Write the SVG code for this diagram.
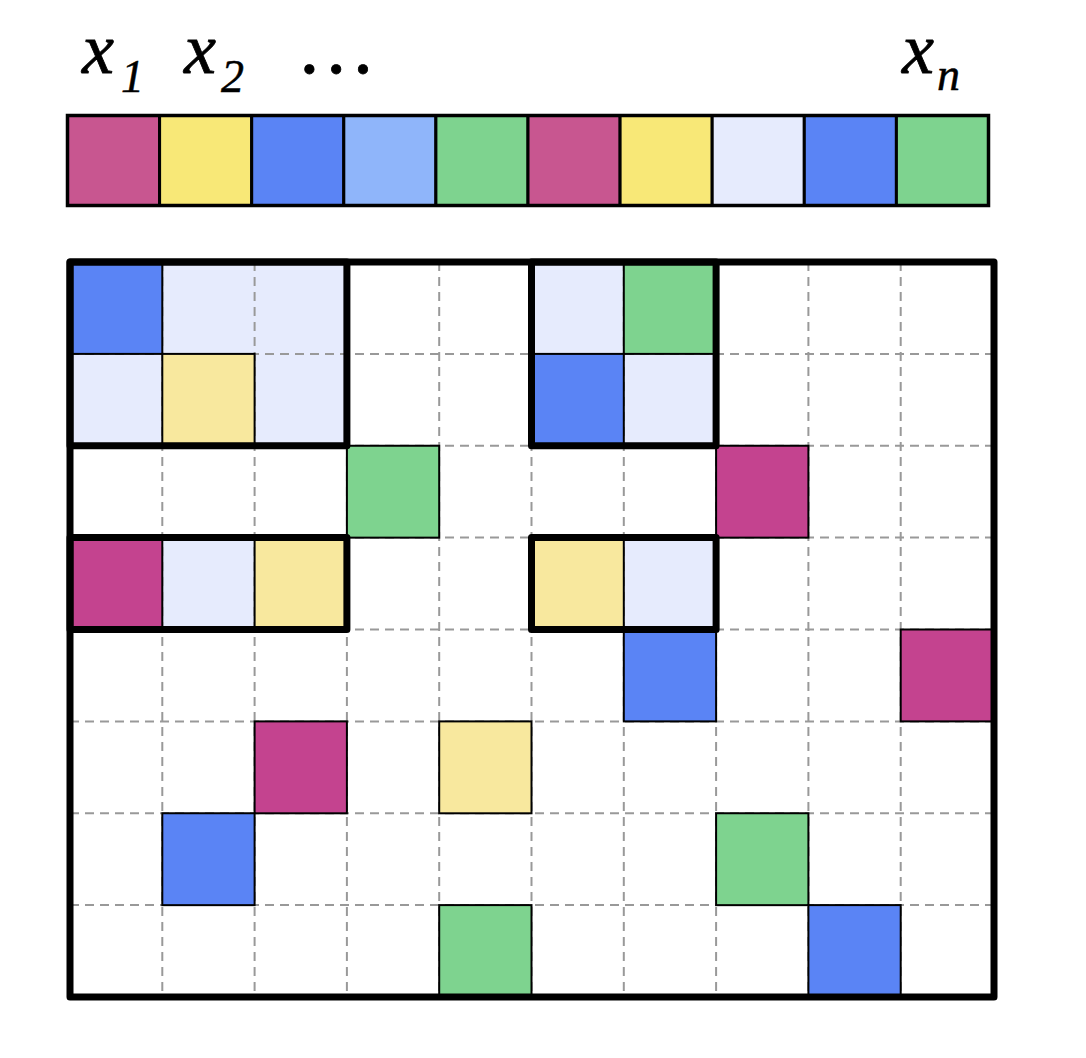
<svg xmlns="http://www.w3.org/2000/svg" width="1086" height="1058" viewBox="0 0 1086 1058">
<style>
.lbl{font-family:"Liberation Serif","Times New Roman",serif;font-style:italic;fill:#000;stroke:#000;stroke-width:0.8}
.sub{font-family:"Liberation Serif","Times New Roman",serif;font-style:italic;font-size:46px;fill:#000;stroke:#000;stroke-width:0.5}
.top{stroke:#000;stroke-width:3}
.cell{stroke:#000;stroke-width:2}
.grid{stroke:#999;stroke-width:2;stroke-dasharray:9 6;fill:none}
.thick{fill:none;stroke:#000;stroke-width:7;stroke-linejoin:round}
.mag{fill:#c4438f}.mag2{fill:#c85690}.yel{fill:#f8e877}.lyel{fill:#f8e89e}.blu{fill:#5a84f5}.lblu{fill:#8fb5fa}.grn{fill:#7ed38f}.lav{fill:#e6ebfd}
</style>
<rect width="1086" height="1058" fill="#fff"/>
<g id="labels">
<text class="lbl" x="82" y="73" font-size="72">x</text><text class="sub" x="121" y="92">1</text>
<text class="lbl" x="184" y="73" font-size="72">x</text><text class="sub" x="221" y="92">2</text>
<text class="lbl" x="302" y="73" font-size="80" font-style="normal">…</text>
<text class="lbl" x="902" y="73" font-size="72">x</text><text class="sub" x="937" y="90">n</text>
</g>
<g id="sequence">
<rect class="top mag2" x="67.5" y="115.5" width="92.1" height="90"/>
<rect class="top yel" x="159.6" y="115.5" width="92.1" height="90"/>
<rect class="top blu" x="251.7" y="115.5" width="92.1" height="90"/>
<rect class="top lblu" x="343.8" y="115.5" width="92.1" height="90"/>
<rect class="top grn" x="435.9" y="115.5" width="92.1" height="90"/>
<rect class="top mag2" x="528" y="115.5" width="92.1" height="90"/>
<rect class="top yel" x="620.1" y="115.5" width="92.1" height="90"/>
<rect class="top lav" x="712.2" y="115.5" width="92.1" height="90"/>
<rect class="top blu" x="804.3" y="115.5" width="92.1" height="90"/>
<rect class="top grn" x="896.4" y="115.5" width="92.1" height="90"/>
<rect x="67.5" y="115.5" width="921" height="90" fill="none" stroke="#000" stroke-width="3.5"/>
</g>
<g id="matrix-lavender">
<rect class="lav" x="162.3" y="262" width="184.6" height="91.9"/>
<rect class="lav" x="70" y="353.9" width="92.3" height="91.9"/>
<rect class="lav" x="254.6" y="353.9" width="92.3" height="91.9"/>
<rect class="lav" x="531.5" y="262" width="92.3" height="91.9"/>
<rect class="lav" x="623.8" y="353.9" width="92.3" height="91.9"/>
<rect class="lav" x="162.3" y="537.6" width="92.3" height="91.9"/>
<rect class="lav" x="623.8" y="537.6" width="92.3" height="91.9"/>
</g>
<g id="grid">
<path class="grid" d="M162.3 262V997M254.6 262V997M346.9 262V997M439.2 262V997M531.5 262V997M623.8 262V997M716.1 262V997M808.4 262V997M900.7 262V997M70 353.9H994M70 445.75H994M70 537.6H994M70 629.5H994M70 721.4H994M70 813.25H994M70 905.1H994"/>
</g>
<g id="matrix-cells">
<rect class="cell blu" x="70" y="262" width="92.3" height="91.9"/>
<rect class="cell lyel" x="162.3" y="353.9" width="92.3" height="91.9"/>
<rect class="cell grn" x="623.8" y="262" width="92.3" height="91.9"/>
<rect class="cell blu" x="531.5" y="353.9" width="92.3" height="91.9"/>
<rect class="cell grn" x="346.9" y="445.75" width="92.3" height="91.9"/>
<rect class="cell mag" x="716.1" y="445.75" width="92.3" height="91.9"/>
<rect class="cell mag" x="70" y="537.6" width="92.3" height="91.9"/>
<rect class="cell lyel" x="254.6" y="537.6" width="92.3" height="91.9"/>
<rect class="cell lyel" x="531.5" y="537.6" width="92.3" height="91.9"/>
<rect class="cell blu" x="623.8" y="629.5" width="92.3" height="91.9"/>
<rect class="cell mag" x="900.7" y="629.5" width="92.3" height="91.9"/>
<rect class="cell mag" x="254.6" y="721.4" width="92.3" height="91.9"/>
<rect class="cell lyel" x="439.2" y="721.4" width="92.3" height="91.9"/>
<rect class="cell blu" x="162.3" y="813.25" width="92.3" height="91.9"/>
<rect class="cell grn" x="716.1" y="813.25" width="92.3" height="91.9"/>
<rect class="cell grn" x="439.2" y="905.1" width="92.3" height="91.9"/>
<rect class="cell blu" x="808.4" y="905.1" width="92.3" height="91.9"/>
</g>
<g id="blocks">
<rect class="thick" x="70" y="262" width="276.9" height="183.75"/>
<rect class="thick" x="70" y="537.6" width="276.9" height="91.9"/>
<rect class="thick" x="531.5" y="262" width="184.6" height="183.75"/>
<rect class="thick" x="531.5" y="537.6" width="184.6" height="91.9"/>
<rect class="thick" x="70" y="262" width="924" height="735"/>
</g>
</svg>
